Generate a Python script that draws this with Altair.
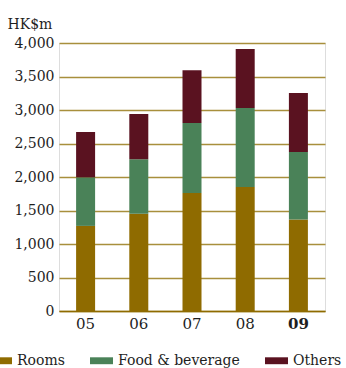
import altair as alt
import pandas as pd

years = ["05", "06", "07", "08", "09"]
rooms = [1270, 1450, 1760, 1850, 1365]
food_beverage = [725, 815, 1045, 1180, 1010]
others = [677, 675, 790, 880, 880]

series = ["Rooms", "Food & beverage", "Others"]
colors = ["#8f6b00", "#4a8258", "#5a1220"]

rows = []
for i, y in enumerate(years):
    for k, (name, vals) in enumerate(zip(series, [rooms, food_beverage, others])):
        rows.append({"year": y, "series": name, "value": vals[i], "order": k})
df = pd.DataFrame(rows)

FONT = "DejaVu Serif"
INK = "#1e1e1e"

bars = alt.Chart(df).mark_bar(width=19).encode(
    x=alt.X(
        "year:N",
        sort=years,
        title=None,
        scale=alt.Scale(paddingInner=0.0, paddingOuter=0.0),
        axis=alt.Axis(
            labelAngle=0,
            ticks=False,
            domainColor="#8f6b00",
            domainWidth=1.5,
            labelFont=FONT,
            labelFontSize=15,
            labelColor=INK,
            labelPadding=5,
            grid=False,
            labelFontWeight={"condition": {"test": "datum.value == '09'", "value": "bold"}, "value": "normal"},
        ),
    ),
    y=alt.Y(
        "value:Q",
        stack="zero",
        scale=alt.Scale(domain=[0, 4000], nice=False),
        axis=alt.Axis(
            values=list(range(0, 4001, 500)),
            format=",d",
            ticks=False,
            domain=False,
            gridColor="#a88f3c",
            gridWidth=1.3,
            labelFont=FONT,
            labelFontSize=14,
            labelColor=INK,
            labelPadding=5,
            title="HK$m",
            titleAngle=0,
            titleFont=FONT,
            titleFontSize=14,
            titleFontWeight="normal",
            titleColor=INK,
            titleAlign="left",
            titleBaseline="alphabetic",
            titleX=-52,
            titleY=-15,
        ),
    ),
    color=alt.Color(
        "series:N",
        sort=series,
        scale=alt.Scale(domain=series, range=colors),
        legend=alt.Legend(
            title=None,
            orient="none",
            direction="horizontal",
            legendX=-70,
            legendY=306,
            symbolType="M-1,-0.3H1V0.3H-1Z",
            symbolSize=529,
            symbolStrokeWidth=0,
            labelFont=FONT,
            labelFontSize=14,
            labelColor=INK,
            labelOffset=5,
            columnPadding=25,
        ),
    ),
    order=alt.Order("order:Q"),
)

chart = bars.properties(
    width=266,
    height=268,
    autosize=alt.AutoSizeParams(type="none"),
    padding={"left": 59, "top": 43, "right": 21, "bottom": 57},
).configure_view(stroke=None).configure(background="white")

chart.save("out.html", embed_options={"renderer": "svg", "actions": False})
